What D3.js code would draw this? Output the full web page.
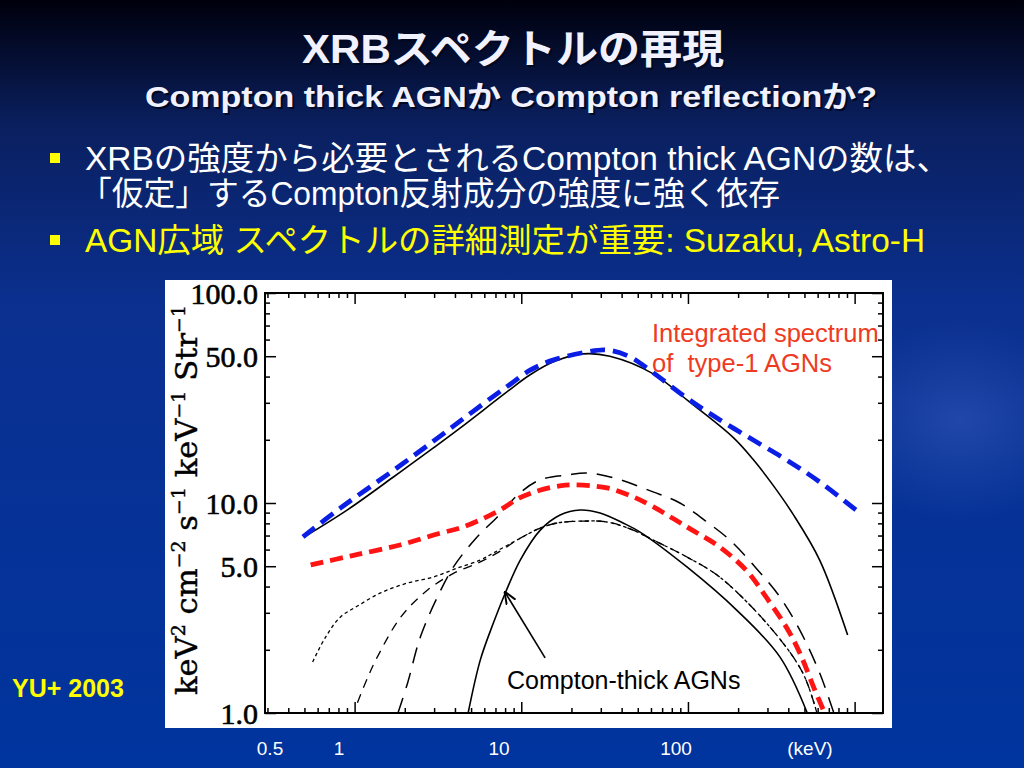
<!DOCTYPE html>
<html>
<head>
<meta charset="utf-8">
<script src="https://cdn.jsdelivr.net/npm/d3@7"></script>
<style>
html, body { margin: 0; padding: 0; background: #003399; }
svg { display: block; }
</style>
</head>
<body>
<script>
// Energies (keV) and fluxes (keV^2 cm^-2 s^-1 keV^-1 Str^-1)
var totalE = [0.5, 0.91, 1.71, 2.97, 4.31, 8.2, 11.3, 16, 23.5, 34, 62, 99, 186, 245, 323, 425, 617, 908];
var totalF = [6.9, 9.3, 13.3, 18.3, 22.8, 33.8, 40.8, 47.4, 51.3, 50, 41.2, 30.9, 20.6, 16.2, 12.2, 8.9, 5.35, 2.35];

var blueE = [0.49, 0.82, 1.71, 2.97, 4.31, 6.8, 8.6, 11.3, 15.5, 24.8, 32.7, 45, 61.7, 98.6, 155, 245, 392, 617, 1030];
var blueF = [6.9, 9.45, 14.3, 19.7, 24.6, 32.2, 36.8, 42.9, 47.9, 52.4, 53.5, 49.6, 41.8, 31.6, 24.9, 20, 16, 12.6, 9.2];

var redE = [0.545, 0.94, 1.87, 3.25, 4.29, 5.65, 7.45, 9.83, 12.9, 17, 20.5, 32.7, 46.9, 61.7, 98.6, 155, 226, 297, 392, 469, 576, 680];
var redF = [5.07, 5.59, 6.31, 7.18, 7.6, 8.3, 9.26, 10.6, 11.5, 12.05, 12.2, 11.8, 10.7, 9.6, 7.69, 6.17, 4.74, 3.53, 2.54, 1.93, 1.29, 0.95];

var longE = [1.82, 2.08, 2.48, 3.14, 3.92, 5.3, 7.18, 9.86, 13, 18.9, 24.8, 35.6, 61.7, 89.5, 130, 178, 262, 356, 469, 617, 760];
var longF = [1.0, 1.39, 2.3, 3.57, 4.96, 6.74, 8.58, 11.2, 12.9, 13.6, 13.9, 13.2, 11.3, 10, 8.12, 6.67, 4.8, 3.57, 2.48, 1.55, 0.97];

var ctE = [4.8, 5.68, 6.8, 8.02, 9.86, 13, 17.1, 22.6, 29.7, 40.8, 51.6, 98.6, 196, 356, 520];
var ctF = [1.0, 1.79, 2.68, 3.73, 5.35, 7.43, 8.77, 9.26, 8.96, 8.03, 7.27, 4.96, 3.09, 1.85, 1.0];

// the dotted and the medium-dashed curves share this high energy part
var sharedE = [9.46, 13, 16.4, 23.5, 32.7, 46.9, 61.7, 98.6, 155, 310, 489, 600];
var sharedF = [6.67, 7.6, 8.03, 8.2, 8.12, 7.43, 6.67, 5.53, 4.44, 2.57, 1.55, 0.97];

var dottedE = [0.56, 0.67, 0.82, 1.04, 1.43, 2.08, 2.97, 4.14, 5.68, 6.8];
var dottedF = [1.75, 2.3, 2.86, 3.23, 3.73, 4.16, 4.44, 4.9, 5.35, 5.78];

var mediumE = [1.04, 1.2, 1.37, 1.89, 2.74, 3.92, 5.68, 7.49];
var mediumF = [1.12, 1.48, 1.85, 2.86, 3.85, 4.62, 5.24, 5.9];

var yLabels = [1, 5, 10, 50, 100];
var xLabels = ["0.5", "1", "10", "100", "(keV)"];

function pairs(e, f) { return e.map(function(v, i) { return [v, f[i]]; }); }

var W = 1024, H = 768;
var svg = d3.select("body").append("svg").attr("width", W).attr("height", H);
var defs = svg.append("defs");

// Background
//------------
var bg = defs.append("linearGradient").attr("id", "bg").attr("x1", 0).attr("y1", 0).attr("x2", 0).attr("y2", 1);
bg.append("stop").attr("offset", "0%").attr("stop-color", "#00000c");
bg.append("stop").attr("offset", "16%").attr("stop-color", "#0a1f5e");
bg.append("stop").attr("offset", "40%").attr("stop-color", "#0b3090");
bg.append("stop").attr("offset", "100%").attr("stop-color", "#00349e");
svg.append("rect").attr("width", W).attr("height", H).attr("fill", "url(#bg)");

var glow = defs.append("radialGradient").attr("id", "glow");
glow.append("stop").attr("offset", "0%").attr("stop-color", "#7fa0ff").attr("stop-opacity", 0.2);
glow.append("stop").attr("offset", "100%").attr("stop-color", "#7fa0ff").attr("stop-opacity", 0);
svg.append("ellipse").attr("cx", 960).attr("cy", 420).attr("rx", 130).attr("ry", 100).attr("fill", "url(#glow)");

// Titles
//------------
function shadowText(txt, cx, cy, size, len) {
	[["#000822", 2], ["#f2f2ff", 0]].forEach(function(s) {
		svg.append("text")
			.attr("x", cx + s[1]).attr("y", cy + s[1])
			.attr("text-anchor", "middle")
			.attr("font-family", "'Liberation Sans', 'Noto Sans CJK JP', sans-serif")
			.attr("font-weight", "bold")
			.attr("font-size", size)
			.attr("textLength", len).attr("lengthAdjust", "spacingAndGlyphs")
			.attr("fill", s[0])
			.text(txt);
	});
}
shadowText("XRBスペクトルの再現", 513, 63, 40, 422);
shadowText("Compton thick AGNか Compton reflectionか?", 511, 107, 30, 732);

// Bullets
//------------
var bodyFont = "'Liberation Sans', 'Noto Sans CJK JP', sans-serif";
[[55, 158], [55, 240]].forEach(function(p) {
	svg.append("rect").attr("x", p[0] - 5).attr("y", p[1] - 5).attr("width", 10).attr("height", 10).attr("fill", "#ffff00");
});
var lines = [
	["XRBの強度から必要とされるCompton thick AGNの数は、", 85, 170, "#ffffff", 865],
	["「仮定」するCompton反射成分の強度に強く依存", 80, 205, "#ffffff", 700],
	["AGN広域 スペクトルの詳細測定が重要: Suzaku, Astro-H", 85, 252, "#ffff00", 840]
];
lines.forEach(function(l) {
	svg.append("text").attr("x", l[1]).attr("y", l[2])
		.attr("font-family", bodyFont).attr("font-size", 33)
		.attr("textLength", l[4]).attr("lengthAdjust", "spacingAndGlyphs")
		.attr("fill", l[3]).text(l[0]);
});

// Chart panel
//------------
svg.append("rect").attr("x", 165).attr("y", 280).attr("width", 727).attr("height", 448).attr("fill", "#ffffff");

var x = d3.scaleLog().domain([0.29, 1480]).range([265, 883]);
var y = d3.scaleLog().domain([1, 100]).range([713, 293]);

defs.append("clipPath").attr("id", "plot")
	.append("rect").attr("x", 265).attr("y", 293).attr("width", 618).attr("height", 420);

//-- ticks
var xMajor = [1, 10, 100, 1000];
var xMinor = [];
[0.1, 1, 10, 100, 1000].forEach(function(d) {
	for (var k = 2; k < 10; k++) { var v = d * k; if (v > 0.29 && v < 1480) xMinor.push(v); }
});
var yMajor = [1, 5, 10, 50, 100];
var yMinor = [2, 3, 4, 6, 7, 8, 9, 20, 30, 40, 60, 70, 80, 90];

function axisG(axis, tx, ty) {
	var g = svg.append("g").attr("transform", "translate(" + tx + "," + ty + ")").call(axis);
	g.select(".domain").remove();
	g.selectAll("line").attr("stroke", "#000").attr("stroke-width", 1.5);
	return g;
}
axisG(d3.axisBottom(x).tickValues(xMajor).tickSize(-11).tickFormat(""), 0, 713);
axisG(d3.axisBottom(x).tickValues(xMinor).tickSize(-5).tickFormat(""), 0, 713);
axisG(d3.axisTop(x).tickValues(xMajor).tickSize(-11).tickFormat(""), 0, 293);
axisG(d3.axisTop(x).tickValues(xMinor).tickSize(-5).tickFormat(""), 0, 293);
axisG(d3.axisRight(y).tickValues(yMajor).tickSize(-11).tickFormat(""), 883, 0);
axisG(d3.axisRight(y).tickValues(yMinor).tickSize(-5).tickFormat(""), 883, 0);
axisG(d3.axisLeft(y).tickValues(yMinor).tickSize(-5).tickFormat(""), 265, 0);
var yAx = axisG(d3.axisLeft(y).tickValues(yLabels).tickSize(-11).tickPadding(7).tickFormat(d3.format(".1f")), 265, 0);
yAx.selectAll("text")
	.attr("font-family", "'Liberation Serif', serif")
	.attr("font-size", 30)
	.attr("fill", "#000").attr("stroke", "#000").attr("stroke-width", 0.6)
	.attr("dy", "0.34em");

svg.append("rect").attr("x", 265).attr("y", 293).attr("width", 618).attr("height", 420)
	.attr("fill", "none").attr("stroke", "#000").attr("stroke-width", 2);

//-- y label
var yl = svg.append("text")
	.attr("transform", "translate(197,500) rotate(-90)")
	.attr("text-anchor", "middle")
	.attr("font-family", "'DejaVu Serif', serif")
	.attr("font-size", 29)
	.attr("fill", "#000").attr("stroke", "#000").attr("stroke-width", 0.4)
	.attr("textLength", 390).attr("lengthAdjust", "spacingAndGlyphs");
[["keV", null], ["2", "sup"], [" cm", null], ["\u22122", "sup"], [" s", null], ["\u22121", "sup"],
 [" keV", null], ["\u22121", "sup"], [" Str", null], ["\u22121", "sup"]].forEach(function(p) {
	var t = yl.append("tspan").text(p[0]);
	if (p[1]) t.attr("font-size", 18).attr("dy", -12);
	else t.attr("dy", yl.selectAll("tspan").size() > 1 ? 12 : 0);
});

// Curves
//------------
var line = d3.line().x(function(d) { return x(d[0]); }).y(function(d) { return y(d[1]); }).curve(d3.curveCatmullRom.alpha(0.5));
var curves = svg.append("g").attr("clip-path", "url(#plot)");
var series = [
	[pairs(dottedE.concat(sharedE), dottedF.concat(sharedF)), "#000", 1.3, "3.5,3"],
	[pairs(mediumE.concat(sharedE), mediumF.concat(sharedF)), "#000", 1.3, "9,7"],
	[pairs(longE, longF), "#000", 1.5, "16,10"],
	[pairs(ctE, ctF), "#000", 1.6, null],
	[pairs(totalE, totalF), "#000", 1.6, null],
	[pairs(redE, redF), "#ff1414", 4.8, "13,7"],
	[pairs(blueE, blueF), "#0a1ee6", 4.8, "15,8"]
];
series.forEach(function(s) {
	curves.append("path").datum(s[0])
		.attr("d", line)
		.attr("fill", "none")
		.attr("stroke", s[1])
		.attr("stroke-width", s[2])
		.attr("stroke-dasharray", s[3]);
});

// Annotations
//------------
defs.append("marker").attr("id", "arr").attr("viewBox", "0 0 10 10").attr("refX", 9).attr("refY", 5)
	.attr("markerWidth", 8).attr("markerHeight", 8).attr("orient", "auto")
	.append("path").attr("d", "M0,1 L10,5 L0,9").attr("fill", "none").attr("stroke", "#000").attr("stroke-width", 1.5);
svg.append("line")
	.attr("x1", x(13.9)).attr("y1", y(1.83)).attr("x2", x(8.0)).attr("y2", y(3.75))
	.attr("stroke", "#000").attr("stroke-width", 1.6).attr("marker-end", "url(#arr)");

svg.append("text").attr("x", 507).attr("y", 689)
	.attr("font-family", "'Liberation Sans', sans-serif").attr("font-size", 25).attr("fill", "#000")
	.text("Compton-thick AGNs");

svg.append("text").attr("x", 652).attr("y", 342)
	.attr("font-family", "'Liberation Sans', sans-serif").attr("font-size", 25.5).attr("fill", "#ee3b22")
	.text("Integrated spectrum");
svg.append("text").attr("x", 652).attr("y", 372)
	.attr("font-family", "'Liberation Sans', sans-serif").attr("font-size", 25.5).attr("fill", "#ee3b22")
	.attr("xml:space", "preserve")
	.text("of  type-1 AGNs");

// Slide-level axis labels
//------------
var xLabelPos = [270, 339, 499, 676, 810];
xLabels.forEach(function(t, i) {
	svg.append("text").attr("x", xLabelPos[i]).attr("y", 755)
		.attr("text-anchor", "middle")
		.attr("font-family", "'Liberation Sans', sans-serif").attr("font-size", 19)
		.attr("fill", "#ffffff").text(t);
});

svg.append("text").attr("x", 12).attr("y", 697)
	.attr("font-family", "'Liberation Sans', sans-serif").attr("font-weight", "bold").attr("font-size", 25)
	.attr("fill", "#ffff00").text("YU+ 2003");
</script>
</body>
</html>
